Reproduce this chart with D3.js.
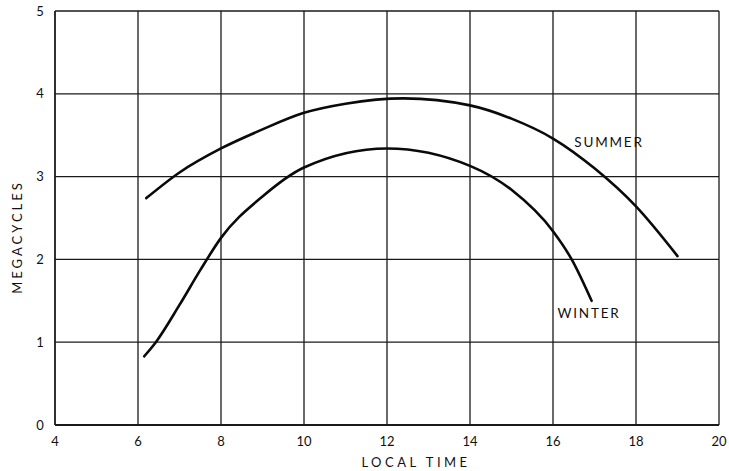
<!DOCTYPE html>
<html><head><meta charset="utf-8">
<script src="https://cdn.jsdelivr.net/npm/d3@7"></script>
<style>body{margin:0;background:#fff}svg{display:block}text{font-family:Lato,"DejaVu Sans",sans-serif;fill:#111}</style>
</head><body>
<script>
const xTicks = [4,6,8,10,12,14,16,18,20];
const yTicks = [0,1,2,3,4,5];
const summerX = [6.2,7,8,9,10,11,12.4,14,15,16,17,18,19];
const summerY = [2.74,3.05,3.34,3.57,3.77,3.88,3.945,3.86,3.7,3.46,3.1,2.64,2.04];
const winterX = [6.15,6.43,7,7.5,8,9,10,12,14,15,16,16.45,16.93];
const winterY = [0.83,1.0,1.45,1.87,2.26,2.76,3.11,3.34,3.13,2.84,2.34,2.0,1.5];
const xLabel = "LOCAL TIME", yLabel = "MEGACYCLES";
const seriesNames = ["SUMMER","WINTER"];

const W=729,H=471;
const svg=d3.select("body").append("svg").attr("width",W).attr("height",H);
const x=d3.scaleLinear().domain([4,20]).range([55,719]);
const y=d3.scaleLinear().domain([0,5]).range([425,11]);

const g=svg.append("g");
g.selectAll("line.vx").data(xTicks).join("line")
  .attr("x1",d=>x(d)).attr("x2",d=>x(d)).attr("y1",y(0)).attr("y2",y(5))
  .attr("stroke","#1a1a1a").attr("stroke-width",d=>(d===4?1.8:1.3));
g.selectAll("line.hy").data(yTicks).join("line")
  .attr("y1",d=>y(d)).attr("y2",d=>y(d)).attr("x1",x(4)).attr("x2",x(20))
  .attr("stroke","#1a1a1a").attr("stroke-width",d=>(d===0?1.8:1.3));

g.selectAll("text.xt").data(xTicks).join("text")
  .attr("x",d=>x(d)).attr("y",446).attr("text-anchor","middle")
  .attr("font-size",13).text(d=>d);
g.selectAll("text.yt").data(yTicks).join("text")
  .attr("x",40).attr("y",d=>y(d)+4.5).attr("text-anchor","middle")
  .attr("font-size",13).text(d=>d);

svg.append("text").attr("x",416).attr("y",467).attr("text-anchor","middle")
  .attr("font-size",13).attr("letter-spacing",3.5).text(xLabel);
svg.append("text").attr("transform","translate(22,237) rotate(-90)").attr("text-anchor","middle")
  .attr("font-size",13).attr("letter-spacing",3).text(yLabel);

const line=d3.line().x(d=>x(d[0])).y(d=>y(d[1])).curve(d3.curveMonotoneX);
const summer=summerX.map((v,i)=>[v,summerY[i]]);
const winter=winterX.map((v,i)=>[v,winterY[i]]);
[summer,winter].forEach(s=>{
  svg.append("path").datum(s).attr("d",line).attr("fill","none")
    .attr("stroke","#0a0a0a").attr("stroke-width",2.6).attr("stroke-linecap","round");
});
svg.append("text").attr("x",609).attr("y",146.5).attr("text-anchor","middle")
  .attr("font-size",13.5).attr("letter-spacing",1.8).text(seriesNames[0]);
svg.append("text").attr("x",589).attr("y",318).attr("text-anchor","middle")
  .attr("font-size",13.5).attr("letter-spacing",1.8).text(seriesNames[1]);
</script>
</body></html>
